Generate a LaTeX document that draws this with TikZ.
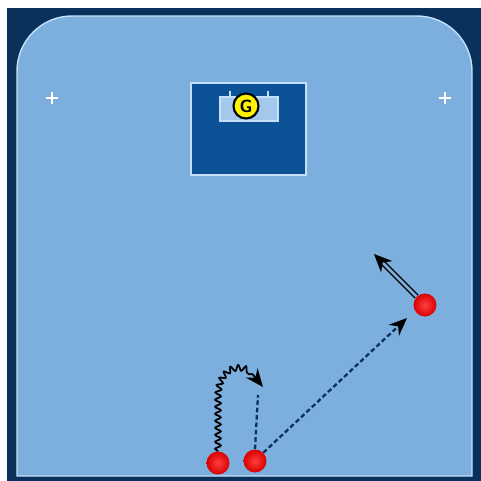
\documentclass[tikz,border=0pt]{standalone}
\usepackage{tikz}
\usetikzlibrary{arrows.meta,decorations.pathmorphing}
\usepackage{xcolor}

\definecolor{navy}{RGB}{10,48,92}
\definecolor{rinkblue}{RGB}{124,174,222}
\definecolor{creaseblue}{RGB}{12,82,150}
\definecolor{netblue}{RGB}{164,200,236}
\definecolor{lineblue}{RGB}{196,224,248}

\begin{document}
\begin{tikzpicture}[x=0.02cm,y=-0.02cm,
    player/.style={circle,inner color=red!75!white,outer color=red!85!black,inner sep=0pt,minimum size=0.46cm},
    goalie/.style={circle,fill=yellow,draw=black,line width=1.2pt,inner sep=0pt,minimum size=0.5cm,font=\sffamily\bfseries},
    skate/.style={black,line width=1pt,decorate,decoration={snake,amplitude=1.6pt,segment length=4pt,post length=3mm},-{Stealth[length=3.6mm,width=3mm]}},
    pass/.style={navy,line width=1.3pt,dash pattern=on 2.6pt off 1.6pt},
    backskate/.style={black,double=rinkblue,double distance=1.6pt,line width=0.8pt,-{Stealth[length=3.6mm,width=3.2mm]}},
    faceoff/.style={white,line width=0.7pt}]
    \useasboundingbox (0,0) rectangle (481,481);
    \fill[white] (0,0) rectangle (481,481);
    \fill[navy] (7,8) rectangle (481,481);
    % rink
    \draw[fill=rinkblue,draw=lineblue,line width=0.8pt] (17,476) -- (17,71) arc[start angle=180,end angle=270,radius=55]
        -- (417,16) arc[start angle=270,end angle=360,radius=55] -- (472,476) -- cycle;
    % faceoff marks
    \draw[faceoff] (46,98) -- (58,98) (52,92) -- (52,104);
    \draw[faceoff] (439,98) -- (451,98) (445,92) -- (445,104);
    % crease and net
    \draw[fill=creaseblue,draw=lineblue,line width=0.8pt] (191,83) rectangle (306,175);
    \draw[fill=netblue,draw=lineblue,line width=0.6pt] (220,97) rectangle (278,121);
    \draw[lineblue,line width=0.6pt] (230,91) -- (230,97) (268,91) -- (268,97);
    \node[goalie] (g) at (246,106) {G};
    % players
    \node[player] (p1) at (218,463) {};
    \node[player] (p2) at (255,461) {};
    \node[player] (p3) at (425,305) {};
    \coordinate (turn) at (263,387);
    \coordinate (stop) at (258,395);
    \coordinate (target) at (407,318);
    \coordinate (back) at (374,254);
    \draw[skate] (p1.north) -- (218,400) .. controls (218,362) and (250,362) .. (turn);
    \draw[pass] (p2.north) -- (stop);
    \draw[pass,-{Stealth[length=3.6mm,width=3mm,color=black]}] (p2.north east) -- (target);
    \draw[backskate] (p3.north west) -- (back);
\end{tikzpicture}
\end{document}
